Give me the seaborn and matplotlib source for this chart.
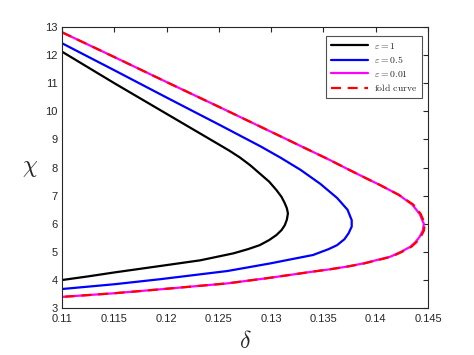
import matplotlib
matplotlib.use("Agg")
import matplotlib.pyplot as plt
import seaborn as sns
import pandas as pd

# values (delta, chi), from the upper branch round the nose to the lower branch
delta_eps1 = [0.1100, 0.1150, 0.1200, 0.1250, 0.1260, 0.1270, 0.1280, 0.1289, 0.1298, 0.1305, 0.1310,
              0.1313, 0.1315, 0.1316, 0.1315, 0.1313, 0.1310, 0.1305, 0.1298, 0.1289, 0.1278, 0.1264,
              0.1250, 0.1232, 0.1194, 0.1150, 0.1125, 0.1100]
chi_eps1 = [12.12, 11.00, 9.91, 8.82, 8.60, 8.36, 8.08, 7.79, 7.50, 7.20, 6.95,
            6.73, 6.55, 6.37, 6.15, 5.95, 5.78, 5.60, 5.42, 5.24, 5.10, 4.95,
            4.84, 4.70, 4.50, 4.27, 4.13, 4.00]

delta_eps05 = [0.1100, 0.1150, 0.1200, 0.1250, 0.1290, 0.1309, 0.1328, 0.1347, 0.1363, 0.1373, 0.1377,
               0.1377, 0.1374, 0.1370, 0.1363, 0.1355, 0.1340, 0.1318, 0.1299, 0.1258, 0.1194,
               0.1150, 0.1100]
chi_eps05 = [12.42, 11.46, 10.49, 9.53, 8.75, 8.35, 7.92, 7.42, 6.92, 6.50, 6.13,
             5.90, 5.66, 5.45, 5.24, 5.10, 4.89, 4.73, 4.59, 4.32, 4.03,
             3.85, 3.68]

delta_eps001 = [0.1100, 0.1150, 0.1200, 0.1250, 0.1300, 0.1356, 0.1375, 0.1394, 0.1404, 0.1422, 0.1435,
                0.1442, 0.1446, 0.1445, 0.1442, 0.1438, 0.1433, 0.1424, 0.1414, 0.1400, 0.1388, 0.1373,
                0.1356, 0.1340, 0.1299, 0.1258, 0.1194, 0.1150, 0.1100]
chi_eps001 = [12.81, 11.93, 11.04, 10.16, 9.27, 8.27, 7.91, 7.56, 7.38, 7.03, 6.68,
              6.35, 6.00, 5.75, 5.54, 5.35, 5.18, 5.00, 4.83, 4.70, 4.59, 4.48,
              4.38, 4.30, 4.08, 3.88, 3.67, 3.53, 3.40]

delta_fold = [0.1100, 0.1150, 0.1200, 0.1250, 0.1300, 0.1356, 0.1375, 0.1394, 0.1404, 0.1422, 0.1436,
              0.1443, 0.1447, 0.1446, 0.1443, 0.1439, 0.1434, 0.1425, 0.1415, 0.1401, 0.1389, 0.1373,
              0.1356, 0.1340, 0.1299, 0.1258, 0.1194, 0.1150, 0.1100]
chi_fold = [12.81, 11.93, 11.04, 10.16, 9.27, 8.27, 7.91, 7.56, 7.38, 7.03, 6.68,
            6.35, 6.00, 5.75, 5.54, 5.35, 5.18, 5.00, 4.83, 4.70, 4.59, 4.48,
            4.38, 4.30, 4.08, 3.88, 3.67, 3.53, 3.40]

x_ticks = [0.11, 0.115, 0.12, 0.125, 0.13, 0.135, 0.14, 0.145]
x_tick_labels = ["0.11", "0.115", "0.12", "0.125", "0.13", "0.135", "0.14", "0.145"]
y_ticks = list(range(3, 14))

sns.set_style("white")
plt.rcParams["font.family"] = ["Liberation Sans", "DejaVu Sans"]
plt.rcParams["mathtext.fontset"] = "cm"
plt.rcParams["lines.solid_joinstyle"] = "round"

fig = plt.figure(figsize=(4.74, 3.55), dpi=100)
ax = fig.add_axes([0.131, 0.132, 0.772, 0.792])

curves = [
    (delta_eps1, chi_eps1, r"$\varepsilon = 1$", "black"),
    (delta_eps05, chi_eps05, r"$\varepsilon = 0.5$", "#0000ff"),
    (delta_eps001, chi_eps001, r"$\varepsilon = 0.01$", "#ff00ff"),
]
for d, c, lab, col in curves:
    df = pd.DataFrame({"delta": d, "chi": c})
    sns.lineplot(data=df, x="delta", y="chi", sort=False, estimator=None, ax=ax,
                 color=col, linewidth=1.6, label=lab)

df_fold = pd.DataFrame({"delta": delta_fold, "chi": chi_fold})
sns.lineplot(data=df_fold, x="delta", y="chi", sort=False, estimator=None, ax=ax,
             color="#ff0000", linewidth=1.6, label=r"$\mathrm{fold\ curve}$")
ax.lines[-1].set_dashes([4.5, 3])

ax.set_xlim(0.11, 0.145)
ax.set_ylim(3, 13)
ax.set_xticks(x_ticks)
ax.set_xticklabels(x_tick_labels)
ax.set_yticks(y_ticks)
ax.tick_params(direction="in", length=3.5, width=0.8, top=True, right=True,
               labelsize=8, colors="#262626")
ax.tick_params(axis="x", pad=4)
ax.tick_params(axis="y", pad=3)
for s in ax.spines.values():
    s.set_color("#262626")
    s.set_linewidth(0.8)

ax.set_xlabel(r"$\delta$", fontsize=17, labelpad=5)
ax.set_ylabel(r"$\chi$", fontsize=17, rotation=0, va="center")
ax.yaxis.set_label_coords(-0.088, 0.5)

leg = ax.legend(loc="upper right", fontsize=7, frameon=True, fancybox=False,
                edgecolor="#262626", handlelength=3.8, borderpad=0.5, borderaxespad=0,
                labelspacing=0.35, handletextpad=0.6, bbox_to_anchor=(0.984, 0.968))
leg.get_frame().set_linewidth(0.8)

fig.savefig("out.png", dpi=100)
